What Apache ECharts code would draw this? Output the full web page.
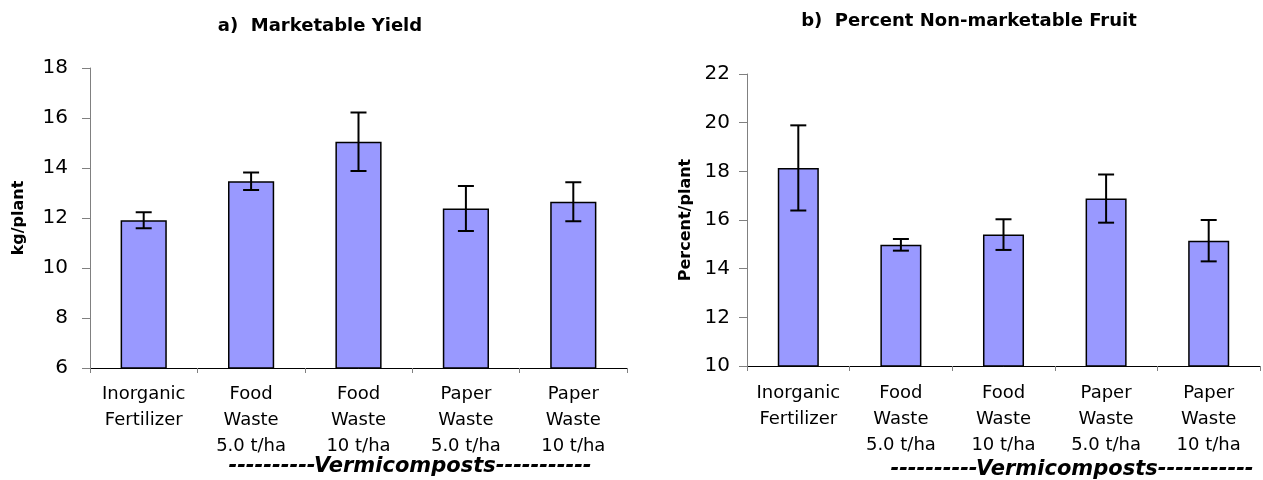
<!DOCTYPE html>
<html lang="en">
<head>
    <meta charset="UTF-8"/>
    <title>Marketable Yield / Non-marketable Fruit</title>
    <style>
        html, body {
            margin: 0;
            padding: 0;
            width: 100vw;
            height: 100vh;
            background: #ffffff;
            overflow: hidden;
        }

        #chart {
            width: 1263px;
            height: 480px;
        }
    </style>
</head>
<body>
<div id="chart"></div>
<script src="https://cdn.jsdelivr.net/npm/echarts@6/dist/echarts.min.js"></script>
<script>
    const chart = echarts.init(document.getElementById('chart'));

    // Treatments (same for both panels)
    const categories = [
        'Inorganic\nFertilizer',
        'Food\nWaste\n5.0 t/ha',
        'Food\nWaste\n10 t/ha',
        'Paper\nWaste\n5.0 t/ha',
        'Paper\nWaste\n10 t/ha'
    ];

    // a) Marketable yield, kg/plant, with +/- error
    const yieldMeans = [11.91, 13.47, 15.05, 12.38, 12.65];
    const yieldErrors = [0.32, 0.35, 1.17, 0.90, 0.78];

    // b) Percent non-marketable fruit, with +/- error
    const nonMarketMeans = [18.14, 14.98, 15.40, 16.88, 15.15];
    const nonMarketErrors = [1.75, 0.24, 0.63, 0.99, 0.85];

    const font = 'DejaVu Sans, Arial, sans-serif';

    function errorData(means, errors) {
        return means.map((m, i) => [i, m - errors[i], m + errors[i]]);
    }

    function renderError(params, api) {
        const x = api.value(0);
        const lo = api.coord([x, api.value(1)]);
        const hi = api.coord([x, api.value(2)]);
        const w = 8;
        const style = {stroke: '#000', lineWidth: 2};
        return {
            type: 'group',
            children: [
                {type: 'line', shape: {x1: hi[0], y1: hi[1], x2: lo[0], y2: lo[1]}, style: style},
                {type: 'line', shape: {x1: hi[0] - w, y1: hi[1], x2: hi[0] + w, y2: hi[1]}, style: style},
                {type: 'line', shape: {x1: lo[0] - w, y1: lo[1], x2: lo[0] + w, y2: lo[1]}, style: style}
            ]
        };
    }

    function xAxis(gridIndex, margin) {
        return {
            type: 'category',
            gridIndex: gridIndex,
            data: categories,
            axisLine: {lineStyle: {color: '#000', width: 1}},
            axisTick: {show: true, length: 5, lineStyle: {color: '#808080'}},
            axisLabel: {
                interval: 0,
                margin: margin,
                color: '#000',
                fontFamily: font,
                fontSize: 18,
                lineHeight: 26
            }
        };
    }

    function yAxis(gridIndex, min, max, name, nameGap, margin) {
        return {
            type: 'value',
            gridIndex: gridIndex,
            min: min,
            max: max,
            interval: 2,
            name: name,
            nameLocation: 'middle',
            nameRotate: 90,
            nameGap: nameGap,
            nameTextStyle: {color: '#000', fontFamily: font, fontWeight: 'bold', fontSize: 16},
            splitLine: {show: false},
            axisLine: {show: true, lineStyle: {color: '#808080', width: 1}},
            axisTick: {show: true, length: 8, lineStyle: {color: '#808080'}},
            axisLabel: {margin: margin, color: '#000', fontFamily: font, fontSize: 20}
        };
    }

    function barSeries(idx, data, width) {
        return {
            type: 'bar',
            xAxisIndex: idx,
            yAxisIndex: idx,
            data: data,
            barWidth: width,
            itemStyle: {color: '#9999FF', borderColor: '#000', borderWidth: 1.5},
            silent: true
        };
    }

    function errorSeries(idx, means, errors) {
        return {
            type: 'custom',
            xAxisIndex: idx,
            yAxisIndex: idx,
            data: errorData(means, errors),
            encode: {x: 0, y: [1, 2]},
            renderItem: renderError,
            z: 5,
            silent: true
        };
    }

    const titleStyle = {color: '#000', fontFamily: font, fontWeight: 'bold', fontSize: 18};
    const vermiStyle = {color: '#000', fontFamily: font, fontWeight: 'bold', fontStyle: 'italic', fontSize: 21};

    const option = {
        backgroundColor: '#ffffff',
        animation: false,
        title: [
            {text: 'a)  Marketable Yield', left: 315, top: 12, textAlign: 'center', textStyle: titleStyle},
            {text: 'b)  Percent Non-marketable Fruit', left: 964, top: 7, textAlign: 'center', textStyle: titleStyle},
            {text: '----------Vermicomposts-----------', left: 405, top: 451, textAlign: 'center', textStyle: vermiStyle},
            {text: '----------Vermicomposts-----------', left: 1067, top: 454, textAlign: 'center', textStyle: vermiStyle}
        ],
        grid: [
            {left: 90, top: 68, width: 537, height: 300},
            {left: 747, top: 74, width: 513, height: 292}
        ],
        xAxis: [xAxis(0, 13), xAxis(1, 14)],
        yAxis: [
            yAxis(0, 6, 18, 'kg/plant', 63, 22),
            yAxis(1, 10, 22, 'Percent/plant', 53, 17)
        ],
        series: [
            barSeries(0, yieldMeans, '43%'),
            errorSeries(0, yieldMeans, yieldErrors),
            barSeries(1, nonMarketMeans, '40%'),
            errorSeries(1, nonMarketMeans, nonMarketErrors)
        ]
    };

    chart.setOption(option);

    window.addEventListener('resize', () => {
        chart.resize();
    });
</script>
</body>
</html>
